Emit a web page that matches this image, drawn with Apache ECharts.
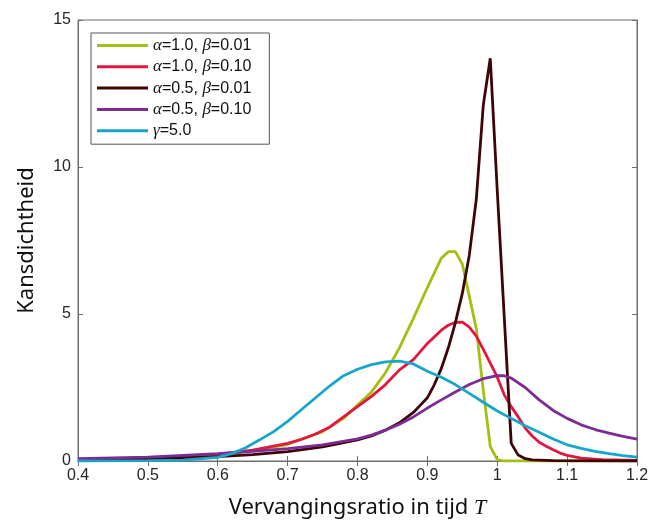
<!DOCTYPE html>
<html>
<head>
<meta charset="utf-8">
<script src="https://cdn.jsdelivr.net/npm/echarts@6/dist/echarts.min.js"></script>
<style>html,body{margin:0;padding:0;background:#fff;}#c{width:656px;height:521px;}</style>
</head>
<body>
<div id="c"></div>
<script>
// ---- data ----
const seriesNames = ['α=1.0, β=0.01', 'α=1.0, β=0.10', 'α=0.5, β=0.01', 'α=0.5, β=0.10', 'γ=5.0'];
const xTickValues = [0.4, 0.5, 0.6, 0.7, 0.8, 0.9, 1.0, 1.1, 1.2];
const yTickValues = [0, 5, 10, 15];

const greenX = [0.40,0.50,0.55,0.60,0.65,0.70,0.75,0.78,0.80,0.82,0.84,0.86,0.88,0.90,0.92,0.93,0.94,0.95,0.96,0.97,0.98,0.99,1.00,1.01,1.10,1.20];
const greenY = [0.03,0.07,0.12,0.20,0.35,0.56,1.00,1.45,1.90,2.35,3.00,3.85,4.85,5.90,6.90,7.12,7.12,6.70,5.60,4.50,2.40,0.50,0.05,0.00,0.00,0.00];

const redX = [0.40,0.50,0.60,0.65,0.70,0.72,0.74,0.76,0.78,0.80,0.82,0.84,0.86,0.88,0.90,0.92,0.93,0.94,0.95,0.96,0.97,0.98,0.99,1.00,1.01,1.02,1.03,1.04,1.05,1.06,1.07,1.08,1.09,1.10,1.12,1.15,1.20];
const redY = [0.04,0.09,0.23,0.37,0.60,0.74,0.92,1.15,1.50,1.85,2.20,2.60,3.10,3.45,4.00,4.45,4.62,4.72,4.72,4.55,4.25,3.80,3.33,2.85,2.25,1.85,1.50,1.12,0.85,0.64,0.50,0.38,0.27,0.19,0.10,0.05,0.02];

const brownX = [0.40,0.50,0.60,0.65,0.70,0.75,0.80,0.82,0.84,0.86,0.88,0.89,0.90,0.91,0.92,0.93,0.94,0.95,0.96,0.97,0.98,0.99,1.00,1.01,1.02,1.03,1.04,1.05,1.08,1.20];
const brownY = [0.03,0.06,0.15,0.22,0.32,0.48,0.72,0.85,1.05,1.30,1.65,1.90,2.15,2.60,3.15,3.85,4.70,5.70,7.00,8.90,12.10,13.70,9.20,4.90,0.60,0.20,0.08,0.04,0.01,0.00];

const purpleX = [0.40,0.50,0.60,0.65,0.70,0.75,0.80,0.82,0.84,0.86,0.88,0.90,0.92,0.94,0.96,0.98,1.00,1.01,1.02,1.04,1.06,1.08,1.10,1.12,1.14,1.16,1.18,1.20];
const purpleY = [0.08,0.13,0.25,0.33,0.42,0.55,0.75,0.88,1.05,1.25,1.50,1.80,2.08,2.35,2.60,2.80,2.90,2.90,2.82,2.50,2.08,1.72,1.45,1.23,1.07,0.95,0.84,0.74];

const cyanX = [0.40,0.50,0.55,0.60,0.62,0.64,0.66,0.68,0.70,0.72,0.74,0.76,0.78,0.80,0.82,0.84,0.86,0.88,0.90,0.92,0.94,0.96,0.98,1.00,1.02,1.04,1.06,1.08,1.10,1.12,1.14,1.16,1.18,1.20];
const cyanY = [0.00,0.01,0.03,0.12,0.25,0.45,0.72,1.00,1.35,1.75,2.15,2.55,2.90,3.12,3.28,3.37,3.40,3.30,3.05,2.85,2.60,2.30,2.00,1.70,1.45,1.20,0.98,0.75,0.55,0.43,0.33,0.25,0.18,0.13];

const colors = ['#A3C012', '#E4163F', '#3E0509', '#7B2D93', '#17A6C9'];

// ---- build ----
function pairs(xs, ys){ return xs.map((x,i)=>[x, ys[i]]); }
const allData = [pairs(greenX,greenY), pairs(redX,redY), pairs(brownX,brownY), pairs(purpleX,purpleY), pairs(cyanX,cyanY)];

const axisColor = '#6e6e6e';
const labelColor = '#262626';
const xMin = xTickValues[0], xMax = xTickValues[xTickValues.length-1];
const yMin = yTickValues[0], yMax = yTickValues[yTickValues.length-1];

const chart = echarts.init(document.getElementById('c'), null, {renderer:'canvas'});
chart.setOption({
  animation: false,
  backgroundColor: '#fff',
  grid: {left: 78, right: 19, top: 20, bottom: 60, show: true, borderColor: axisColor, borderWidth: 1,
    backgroundColor: 'transparent', containLabel: false, outerBoundsMode: 'none'},
  legend: {
    show: true,
    orient: 'vertical', left: 91, top: 33,
    data: seriesNames,
    icon: 'rect',
    backgroundColor: '#fff', borderColor: '#555', borderWidth: 1,
    padding: [4, 18, 5, 6],
    itemWidth: 51, itemHeight: 3, itemGap: 4.3,
    formatter: function(name){
      return name.replace(/([αβγ])/g, '{g|$1}');
    },
    textStyle: {
      color: '#111', fontSize: 16, fontFamily: 'Liberation Sans',
      rich: {
        g: {fontFamily: 'Liberation Serif', fontStyle: 'italic', fontSize: 17, color: '#111'}
      }
    }
  },
  xAxis: [{
    type: 'value', min: xMin, max: xMax, interval: 0.1,
    axisLine: {show: true, lineStyle: {color: axisColor, width: 1}},
    axisTick: {show: true, inside: true, length: 5, lineStyle: {color: axisColor}},
    splitLine: {show: false},
    axisLabel: {margin: 7, color: labelColor, fontSize: 16, fontFamily: 'Liberation Sans',
      formatter: v => String(+v.toFixed(1))},
    name: 'Vervangingsratio in tijd {it|T}',
    nameLocation: 'middle', nameGap: 36,
    nameTextStyle: {color: '#111', fontSize: 22, fontFamily: 'Noto Sans',
      rich: {it: {fontFamily: 'Liberation Serif', fontStyle: 'italic', fontSize: 22, color: '#111'}}}
  }, {
    type: 'value', position: 'top', min: xMin, max: xMax, interval: 0.1,
    axisLine: {show: true, lineStyle: {color: axisColor, width: 1}},
    axisTick: {show: true, inside: true, length: 5, lineStyle: {color: axisColor}},
    axisLabel: {show: false}, splitLine: {show: false}
  }],
  yAxis: [{
    type: 'value', min: yMin, max: yMax, interval: 5,
    axisLine: {show: true, lineStyle: {color: axisColor, width: 1}},
    axisTick: {show: true, inside: true, length: 5, lineStyle: {color: axisColor}},
    splitLine: {show: false},
    axisLabel: {margin: 7, color: labelColor, fontSize: 16, fontFamily: 'Liberation Sans'},
    name: 'Kansdichtheid', nameLocation: 'middle', nameGap: 40, nameRotate: 90,
    nameTextStyle: {color: '#111', fontSize: 22, fontFamily: 'Noto Sans'}
  }, {
    type: 'value', position: 'right', min: yMin, max: yMax, interval: 5,
    axisLine: {show: true, lineStyle: {color: axisColor, width: 1}},
    axisTick: {show: true, inside: true, length: 5, lineStyle: {color: axisColor}},
    axisLabel: {show: false}, splitLine: {show: false}
  }],
  series: seriesNames.map((n, i) => ({
    name: n, type: 'line', data: allData[i],
    xAxisIndex: 0, yAxisIndex: 0,
    symbol: 'none', smooth: false,
    lineStyle: {color: colors[i], width: 2.8},
    itemStyle: {color: colors[i]}
  }))
});
</script>
</body>
</html>
